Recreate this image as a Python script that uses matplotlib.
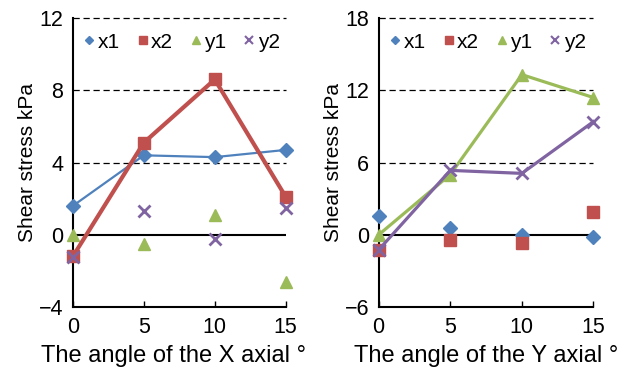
import numpy as np
import matplotlib
matplotlib.use('Agg')
import matplotlib.pyplot as plt
from matplotlib.lines import Line2D

plt.rcParams['font.family'] = ['Liberation Sans', 'DejaVu Sans']

angles = [0, 5, 10, 15]

# shear stress (kPa) vs rotation about X axis
x_x1 = [1.6, 4.4, 4.3, 4.7]
x_x2 = [-1.2, 5.1, 8.6, 2.1]
x_y1 = [0.0, -0.5, 1.1, -2.6]
x_y2 = [-1.25, 1.3, -0.25, 1.5]

# shear stress (kPa) vs rotation about Y axis
y_x1 = [1.6, 0.6, 0.0, -0.2]
y_x2 = [-1.3, -0.4, -0.7, 1.9]
y_y1 = [0.0, 5.0, 13.3, 11.4]
y_y2 = [-1.25, 5.35, 5.1, 9.4]

blue = '#4F81BD'
red = '#C0504D'
green = '#9BBB59'
purple = '#8064A2'

fig = plt.figure(figsize=(6.28, 3.69), dpi=100)
ax1 = fig.add_axes([0.116, 0.168, 0.339, 0.783])
ax2 = fig.add_axes([0.603, 0.168, 0.342, 0.783])


def style_axis(ax, ylim, yticks, xlabel, label_x):
    ax.set_xlim(0, 15)
    ax.set_ylim(*ylim)
    ax.set_xticks([0, 5, 10, 15])
    ax.set_yticks(yticks)
    for s in ['top', 'right']:
        ax.spines[s].set_visible(False)
    ax.spines['left'].set_linewidth(1.5)
    ax.spines['bottom'].set_linewidth(1.5)
    ax.axhline(0, color='black', linewidth=1.5, zorder=1)
    for t in yticks[1:]:
        if t > 0:
            ax.axhline(t, color='black', linewidth=0.9, linestyle=(0, (5, 3)),
                       zorder=0, clip_on=False)
    ax.tick_params(axis='x', direction='in', length=4, width=1, labelsize=15.5, pad=7)
    ax.tick_params(axis='y', length=0, labelsize=15.5, pad=7)
    ax.set_ylabel('Shear stress kPa', fontsize=15, labelpad=1)
    ax.set_xlabel(xlabel, fontsize=17, labelpad=3)
    ax.xaxis.set_label_coords(label_x, -0.13)
    handles = [
        Line2D([], [], color=blue, marker='D', linestyle='none', markersize=4.5),
        Line2D([], [], color=red, marker='s', linestyle='none', markersize=5.5),
        Line2D([], [], color=green, marker='^', linestyle='none', markersize=5.5),
        Line2D([], [], color=purple, marker='x', linestyle='none', markersize=5.5,
               markeredgewidth=1.5),
    ]
    ax.legend(handles, ['x1', 'x2', 'y1', 'y2'], ncol=4, loc='upper left',
              bbox_to_anchor=(-0.02, 1.0), frameon=False, fontsize=15,
              handlelength=0.6, handletextpad=0.1, columnspacing=0.8,
              borderaxespad=0.3)


# left panel
ax1.plot(angles, x_x1, color=blue, marker='D', markersize=7, linewidth=1.6, zorder=3, clip_on=False)
ax1.plot(angles, x_x2, color=red, marker='s', markersize=8, linewidth=3, zorder=4, clip_on=False)
ax1.plot(angles, x_y1, color=green, marker='^', markersize=8, linestyle='none', zorder=3, clip_on=False)
ax1.plot(angles, x_y2, color=purple, marker='x', markersize=8, markeredgewidth=2,
         linestyle='none', zorder=5, clip_on=False)
style_axis(ax1, (-4, 12), [-4, 0, 4, 8, 12], 'The angle of the X axial \u00b0', 0.475)

# right panel
ax2.plot(angles, y_x1, color=blue, marker='D', markersize=7, linestyle='none', zorder=3, clip_on=False)
ax2.plot(angles, y_x2, color=red, marker='s', markersize=8, linestyle='none', zorder=3, clip_on=False)
ax2.plot(angles, y_y1, color=green, marker='^', markersize=8, linewidth=2.3, zorder=4, clip_on=False)
ax2.plot(angles, y_y2, color=purple, marker='x', markersize=8, markeredgewidth=2,
         linewidth=2.3, zorder=5, clip_on=False)
style_axis(ax2, (-6, 18), [-6, 0, 6, 12, 18], 'The angle of the Y axial \u00b0', 0.5)

fig.savefig('out.png', dpi=100)
